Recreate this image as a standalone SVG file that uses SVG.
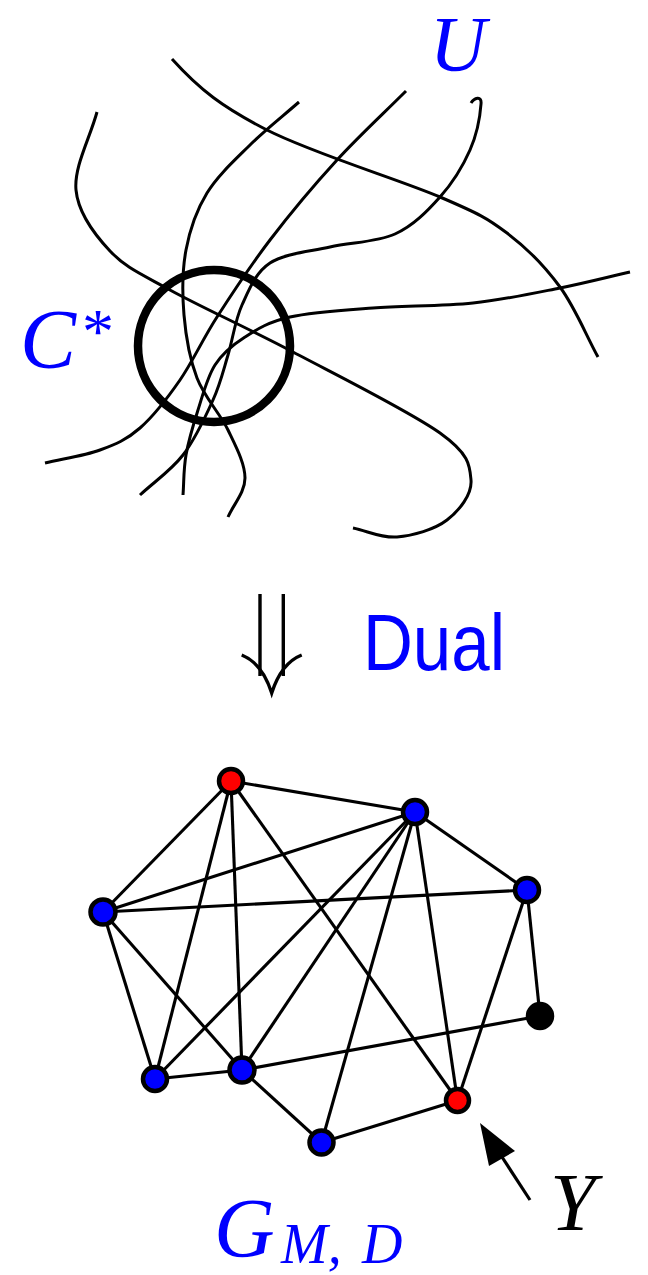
<svg xmlns="http://www.w3.org/2000/svg" width="648" height="1275" viewBox="0 0 648 1275">
<style>
.curve{fill:none;stroke:#000;stroke-width:3;stroke-linecap:butt}
.ring{fill:none;stroke:#000;stroke-width:8.5}
.edge{stroke:#000;stroke-width:3.1;fill:none}
.node{stroke:#000;stroke-width:4.5}
.blue{fill:#0000ff}
.red{fill:#ff0000}
.blk{fill:#000}
.math{font-family:"Liberation Serif","Times New Roman",serif;font-style:italic}
.sans{font-family:"Liberation Sans",Arial,sans-serif}
</style>
<rect width="648" height="1275" fill="#fff"/>
<g id="curves">
<path class="curve" d="M172,59 C200,90 222.3,107 267,130 C311.7,153 400,179.8 440,197 C480,214.2 487,218 507,233 C527,248 544.8,266.3 560,287 C575.2,307.7 585.3,333.7 598,357"/>
<path class="curve" d="M97,112 C90,138 73.8,166.8 76,190 C78.2,213.2 94.3,234.3 110,251 C125.7,267.7 139.5,273.2 170,290 C200.5,306.8 248,328.2 293,352 C338,375.8 410.3,411.7 440,433 C469.7,454.3 469.8,465.5 471,480 C472.2,494.5 459.3,510.5 447,520 C434.7,529.5 412.7,535.7 397,537 C381.3,538.3 367.7,531 353,528"/>
<path class="curve" d="M299,102 C282.7,116.3 265.3,129.8 250,145 C234.7,160.2 217.7,175.5 207,193 C196.3,210.5 189.8,229.7 186,250 C182.2,270.3 182.2,293.7 184,315 C185.8,336.3 189.7,358.8 197,378 C204.3,397.2 220,413.3 228,430 C236,446.7 245,463.5 245,478 C245,492.5 233.7,504 228,517"/>
<path class="curve" d="M406,91 C383,114 359.7,135.2 337,160 C314.3,184.8 290,213.8 270,240 C250,266.2 232,293.7 217,317 C202,340.3 192.8,361.5 180,380 C167.2,398.5 153.3,416.3 140,428 C126.7,439.7 115.8,444.2 100,450 C84.2,455.8 63.3,458.7 45,463"/>
<path class="curve" d="M471,103 C474,98 482,95 481,104 C480,118 476.8,134.5 470,150 C463.2,165.5 452.5,183 440,197 C427.5,211 413.3,225.7 395,234 C376.7,242.3 350.8,242.2 330,247 C309.2,251.8 284.7,253.3 270,263 C255.3,272.7 249,289.7 242,305 C235,320.3 232.8,339.2 228,355 C223.2,370.8 220.5,383.3 213,400 C205.5,416.7 195.2,439.2 183,455 C170.8,470.8 154.3,481.7 140,495"/>
<path class="curve" d="M630,272 C606.7,277.3 586.2,282.8 560,288 C533.8,293.2 504.2,299.7 473,303 C441.8,306.3 403.5,305.7 373,308 C342.5,310.3 311.3,312.2 290,317 C268.7,321.8 257.5,329 245,337 C232.5,345 222.8,352.8 215,365 C207.2,377.2 202.8,395 198,410 C193.2,425 188.5,440.8 186,455 C183.5,469.2 184,481.7 183,495"/>
</g>
<g id="cstar-circle">
<circle class="ring" cx="214" cy="346" r="76"/>
</g>
<g id="labels-top">
<text class="math" x="458" y="70" font-size="78" fill="#0000ff" text-anchor="middle">U</text>
<text class="math" x="20" y="368" font-size="84" fill="#0000ff">C<tspan font-style="normal" font-size="64" dx="6" dy="-15">*</tspan></text>
</g>
<g id="dual-arrow">
<path d="M260,594 V676 M283.3,594 V676" fill="none" stroke="#000" stroke-width="3.4"/>
<path d="M241.7,655 Q262,663 271.7,693 Q281.4,663 301.7,655" fill="none" stroke="#000" stroke-width="3.4" stroke-linejoin="miter"/>
<text class="sans" x="363" y="670" font-size="80" fill="#0000ff" textLength="142" lengthAdjust="spacingAndGlyphs">Dual</text>
</g>
<g id="edges">
<line class="edge" x1="231" y1="781" x2="415" y2="812"/>
<line class="edge" x1="231" y1="781" x2="103" y2="912"/>
<line class="edge" x1="231" y1="781" x2="155" y2="1079"/>
<line class="edge" x1="231" y1="781" x2="242" y2="1070"/>
<line class="edge" x1="231" y1="781" x2="457.5" y2="1100.5"/>
<line class="edge" x1="415" y1="812" x2="527" y2="890"/>
<line class="edge" x1="415" y1="812" x2="103" y2="912"/>
<line class="edge" x1="415" y1="812" x2="155" y2="1079"/>
<line class="edge" x1="415" y1="812" x2="242" y2="1070"/>
<line class="edge" x1="415" y1="812" x2="321.5" y2="1142.5"/>
<line class="edge" x1="415" y1="812" x2="457.5" y2="1100.5"/>
<line class="edge" x1="527" y1="890" x2="103" y2="912"/>
<line class="edge" x1="527" y1="890" x2="540" y2="1016"/>
<line class="edge" x1="527" y1="890" x2="457.5" y2="1100.5"/>
<line class="edge" x1="103" y1="912" x2="155" y2="1079"/>
<line class="edge" x1="103" y1="912" x2="242" y2="1070"/>
<line class="edge" x1="155" y1="1079" x2="242" y2="1070"/>
<line class="edge" x1="242" y1="1070" x2="540" y2="1016"/>
<line class="edge" x1="242" y1="1070" x2="321.5" y2="1142.5"/>
<line class="edge" x1="321.5" y1="1142.5" x2="457.5" y2="1100.5"/>
</g>
<g id="node-a"><circle class="node red" cx="231" cy="781" r="12"/></g>
<g id="node-b"><circle class="node blue" cx="415" cy="812" r="12"/></g>
<g id="node-c"><circle class="node blue" cx="527" cy="890" r="12"/></g>
<g id="node-d"><circle class="node blue" cx="103" cy="912" r="12.5"/></g>
<g id="node-e"><circle class="node blk" cx="540" cy="1016" r="12"/></g>
<g id="node-f"><circle class="node blue" cx="155" cy="1079" r="12"/></g>
<g id="node-g"><circle class="node blue" cx="242" cy="1070" r="12.5"/></g>
<g id="node-h"><circle class="node red" cx="457.5" cy="1100.5" r="11.5"/></g>
<g id="node-i"><circle class="node blue" cx="321.5" cy="1142.5" r="12"/></g>
<g id="y-pointer">
<line x1="530" y1="1200" x2="502" y2="1157" stroke="#000" stroke-width="3.2"/>
<polygon points="480,1123 489,1166 515,1151" fill="#000"/>
<text class="math" x="550" y="1230" font-size="82" fill="#000">Y</text>
</g>
<g id="label-g">
<text class="math" fill="#0000ff"><tspan x="214" y="1257" font-size="84">G</tspan><tspan x="281" y="1263" font-size="56">M,</tspan><tspan x="362" y="1263" font-size="56">D</tspan></text>
</g>
</svg>
